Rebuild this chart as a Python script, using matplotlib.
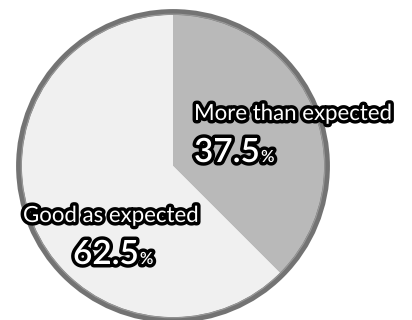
import matplotlib
matplotlib.use('Agg')
import matplotlib.pyplot as plt
import matplotlib.patheffects as pe
from matplotlib.patches import Circle

categories = ["More than expected", "Good as expected"]
values = [37.5, 62.5]
colors = ["#b9b9b9", "#f0f0f0"]

W, H = 412, 320
fig = plt.figure(figsize=(W / 100, H / 100), dpi=100)
ax = fig.add_axes([0, 0, 1, 1])

cx, cy, r = 173, H - 166, 154
ax.pie(values, colors=colors, startangle=90, counterclock=False,
       center=(cx, cy), radius=r, wedgeprops=dict(linewidth=0), frame=True)
ax.set_xlim(0, W)
ax.set_ylim(0, H)
ax.set_aspect('equal')
ax.axis('off')
ax.add_patch(Circle((cx, cy), r, fill=False, edgecolor="#737373", linewidth=4.2))
ax.add_patch(Circle((cx, cy), r - 2.2, fill=False, edgecolor="#9a9a9a", linewidth=0.8))

stroke = [pe.withStroke(linewidth=5, foreground='black')]
font = 'Lato'


def label(x, y, name, pct):
    ax.text(x, H - y, name, fontsize=16, color='white', family=font,
            ha='left', va='baseline', path_effects=stroke)
    t = ax.text(x + pct[1], H - y - 42, pct[0], fontsize=24, color='white',
                family=font, fontweight='semibold', ha='left', va='baseline',
                path_effects=stroke)
    fig.canvas.draw()
    bb = t.get_window_extent()
    ax.text(bb.x1 + 1, H - y - 42, "%", fontsize=12, color='white',
            family=font, fontweight='semibold', ha='left', va='baseline',
            path_effects=stroke)


label(194, 120, categories[0], ("%.1f" % values[0], 0))
label(23, 222, categories[1], ("%.1f" % values[1], 50))

fig.savefig("out.png", dpi=100)
